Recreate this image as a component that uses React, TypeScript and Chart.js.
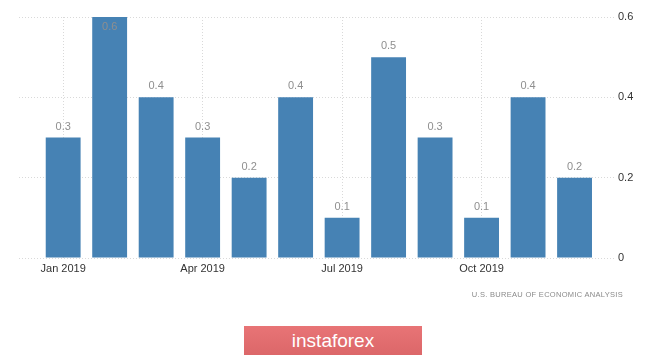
import React, { useEffect, useRef } from "react";
import { Chart, registerables } from "chart.js";

Chart.register(...registerables);

const months = ["Jan", "Feb", "Mar", "Apr", "May", "Jun", "Jul", "Aug", "Sep", "Oct", "Nov", "Dec"];
const values = [0.3, 0.6, 0.4, 0.3, 0.2, 0.4, 0.1, 0.5, 0.3, 0.1, 0.4, 0.2];
const xTickIndexes = [0, 3, 6, 9];
const yTicks = [0, 0.2, 0.4, 0.6];
const year = "2019";
const sourceText = "U.S. BUREAU OF ECONOMIC ANALYSIS";
const brandText = "instaforex";

const FONT = "'Liberation Sans', Arial, sans-serif";

const valueLabels = {
  id: "valueLabels",
  afterDatasetsDraw(chart: any) {
    const ctx = chart.ctx;
    const meta = chart.getDatasetMeta(0);
    const area = chart.chartArea;
    ctx.save();
    ctx.font = `11px ${FONT}`;
    ctx.fillStyle = "#8f8f8f";
    ctx.textAlign = "center";
    ctx.textBaseline = "middle";
    meta.data.forEach((el: any, i: number) => {
      const y = Math.max(el.y - 11, area.top + 10);
      ctx.fillText(values[i].toFixed(1), el.x, y);
    });
    ctx.restore();
  },
};

export default function App() {
  const ref = useRef<HTMLCanvasElement>(null);

  useEffect(() => {
    if (!ref.current) return;
    const chart = new Chart(ref.current, {
      type: "bar",
      data: {
        datasets: [
          {
            data: values.map((v, i) => ({ x: i, y: v })),
            backgroundColor: "#4682b4",
            borderWidth: 0,
            barPercentage: 0.75,
            categoryPercentage: 1,
          },
        ],
      },
      options: {
        animation: false,
        responsive: false,
        maintainAspectRatio: false,
        layout: { padding: { left: 19, top: 17, right: 0, bottom: 0 } },
        plugins: { legend: { display: false }, tooltip: { enabled: false } },
        scales: {
          x: {
            type: "linear",
            min: -0.95,
            max: 11.87,
            offset: false,
            afterBuildTicks(scale: any) {
              scale.ticks = xTickIndexes.map((v) => ({ value: v }));
            },
            afterFit(scale: any) {
              scale.height = 99;
            },
            ticks: {
              autoSkip: false,
              maxRotation: 0,
              padding: 4,
              color: "#333",
              font: { family: FONT, size: 11 },
              callback: (v: any) => `${months[Number(v)]} ${year}`,
            },
            grid: { color: "#d9d9d9", drawTicks: false, lineWidth: 1, offset: false },
            border: { display: false, dash: [1, 2] },
          },
          y: {
            position: "right",
            min: 0,
            max: 0.6,
            afterBuildTicks(scale: any) {
              scale.ticks = yTicks.map((v) => ({ value: v }));
            },
            afterFit(scale: any) {
              scale.width = 50;
            },
            ticks: {
              padding: 3,
              color: "#333",
              font: { family: FONT, size: 11 },
              callback: (v: any) => (Number(v) === 0 ? "0" : Number(v).toFixed(1)),
            },
            grid: { color: "#d9d9d9", drawTicks: false, lineWidth: 1 },
            border: { display: false, dash: [1, 2] },
          },
        },
      },
      plugins: [valueLabels],
    });
    return () => chart.destroy();
  }, []);

  return (
    <div style={{ position: "absolute", left: 0, top: 0, width: 665, height: 357, background: "#fff", overflow: "hidden" }}>
      <canvas ref={ref} width={665} height={357} style={{ position: "absolute", left: 0, top: 0 }} />
      <div
        style={{
          position: "absolute",
          right: 42,
          top: 290,
          fontFamily: FONT,
          fontSize: 7.5,
          letterSpacing: 0.3,
          color: "#8a8a8a",
          whiteSpace: "nowrap",
        }}
      >
        {sourceText}
      </div>
      <div
        style={{
          position: "absolute",
          left: 244,
          top: 326,
          width: 178,
          height: 29,
          background: "linear-gradient(#e87476, #dc6769)",
          color: "#fff",
          fontFamily: FONT,
          fontSize: 19,
          lineHeight: "29px",
          textAlign: "center",
        }}
      >
        {brandText}
      </div>
    </div>
  );
}
